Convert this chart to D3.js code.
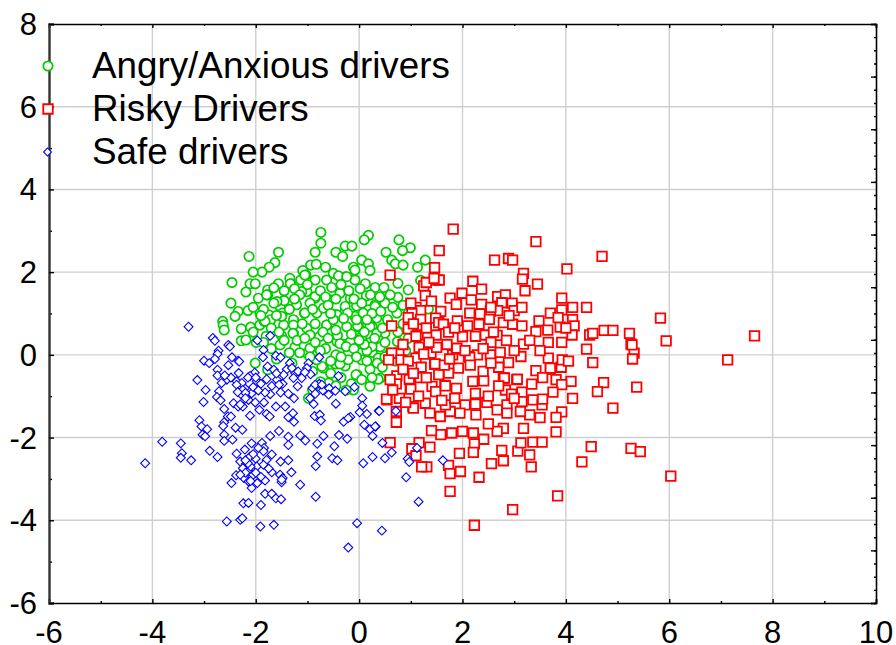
<!DOCTYPE html>
<html>
<head>
<meta charset="utf-8">
<script src="https://cdnjs.cloudflare.com/ajax/libs/d3/7.8.5/d3.min.js"></script>
<style>
  html, body { margin: 0; padding: 0; background: #fff; }
  svg { display: block; }
  text { font-family: "Liberation Sans", Arial, sans-serif; fill: #000; }
</style>
</head>
<body>
<svg id="chart" width="896" height="645"></svg>
<script>
var seriesNames = ["Angry/Anxious drivers", "Risky Drivers", "Safe drivers"];
var xTicks = [-6, -4, -2, 0, 2, 4, 6, 8, 10];
var yTicks = [-6, -4, -2, 0, 2, 4, 6, 8];

// [x, y]
var angry = [
[-.74,2.96],[-.74,2.70],[.18,2.89],[.10,2.78],[-.85,2.48],[-.27,2.63],[-.14,2.63],[-.45,2.48],[-.32,2.38],[.77,2.78],
[.99,2.59],[.84,2.52],[.52,2.48],[.63,2.29],[.70,2.20],[.85,2.17],[1.28,2.29],[1.13,2.12],[.05,2.29],[.18,2.20],
[-1.56,2.48],[-2.13,2.38],[-1.63,2.23],[-1.74,2.12],[-1.88,2.0],[-2.05,2.0],[-2.46,1.75],[-2.11,1.72],[-2.01,1.72],[-2.19,1.52],
[-1.77,1.57],[-1.95,1.37],[-1.77,1.45],[-2.48,1.25],[-2.34,1.05],[-2.15,1.07],[-2.40,.93],[-2.64,.81],[-2.63,.72],[-2.61,.60],
[-2.28,.63],[-2.10,.67],[-2.28,.34],[-2.19,.36],[-1.99,.30],[-1.92,.72],[-1.92,1.01],[-1.75,.97],[-1.84,.81],[-2.01,-.20],
[-1.77,-.36],[-.94,2.17],[-.83,2.19],[-1.09,2.04],[-1.03,1.93],[-.65,2.12],[-.50,1.97],[-.85,1.81],[-1.56,1.72],[-1.34,1.85],
[-1.32,1.72],[-1.13,1.81],[-.63,1.81],[-.11,2.12],[-.08,2.05],[.21,2.04],[-.26,1.89],[-.08,1.81],[.12,1.72],[.31,1.63],
[.48,1.63],[.75,1.73],[.95,1.57],[1.19,1.80],[.75,1.39],[.50,1.25],[.31,1.21],[.14,1.43],[-.17,1.37],[-.53,1.63],
[-.85,1.37],[-1.01,1.53],[-1.21,1.21],[-1.46,1.31],[-1.53,1.17],[-1.48,1.01],[-1.71,.85],[-1.27,.85],[-1.06,1.01],[-.82,1.01],
[-.69,1.13],[-.45,.97],[-.08,.93],[-.27,1.05],[.18,1.09],[.34,.97],[.73,1.01],[1.34,1.11],[.55,.85],[.25,.68],
[-.01,.68],[-.24,.68],[-.63,.72],[-1.01,.64],[-1.27,.52],[-1.46,.72],[-1.53,.24],[-1.24,.19],[-1.01,.04],[-.77,.44],
[-.43,.32],[-.32,.26],[.04,.40],[.21,.30],[.41,.19],[.74,.32],[.50,.52],[-.45,0],[.25,.06],[.02,.04],
[-.46,-.22],[-.27,-.27],[-.04,-.48],[.21,-.35],[.41,-.56],[.21,-.76],[-.11,-.85],[-.69,-.32],[-.59,-.68],[-.98,-1.05],
[.05,-.12],[-.82,0],[-1.33,1.72],[-1.05,1.93],[-.40,1.91],[-.24,1.89],[-.37,1.49],[-.85,1.41],[-1.11,1.53],[-1.79,1.45],
[-1.45,1.31],[-1.59,1.29],[.31,1.17],[-.05,1.18],[-.27,1.17],[-.56,1.33],[-1.05,1.01],[-1.82,.81],[-1.50,.93],[-1.27,.72],
[-.63,.72],[-.43,.97],[-.22,1.01],[.08,1.01],[.34,.89],[-.03,.70],[.21,.68],[-1.28,.52],[-1.50,.46],[-.95,.48],
[-.42,.47],[.34,.52],[-.37,.27],[-.17,.32],[.05,.44],[.25,.20],[-.95,.16],[-.21,.06],[.15,.10],[.37,-.08],
[-.72,-.28],[-.06,-.48],[.37,-.59],[-.37,-.22],[-.21,-.12],[-.82,-.12],
[-1.65,1.62],[-1.45,1.55],[-1.25,1.6],[-1.15,1.45],[-1.0,1.7],[-.95,1.25],[-.75,1.55],[-.65,1.4],[-.6,1.2],[-.45,1.35],
[-.35,1.7],[-.2,1.55],[-.1,1.35],[.02,1.6],[.05,1.25],[.22,1.45],[.25,1.0],[.4,1.4],[.42,1.05],[.6,1.45],
[.65,1.15],[.85,1.2],[.95,1.0],[1.05,.7],[.85,.75],[.62,.7],[.45,.65],[.15,.85],[-.05,.85],[-.15,.5],
[-.3,.88],[-.5,.85],[-.7,.55],[-.85,.75],[-1.1,.75],[-1.35,1.1],[-1.6,.95],[-1.7,.65],[-1.55,.55],[-1.8,.45],
[-2.05,.55],[-1.65,1.25],[-1.85,1.1],[-2.05,1.15],[-1.9,.95],[-1.2,.35],[-1.05,.4],[-.85,.3],[-.65,.15],[-.6,.4],
[-.25,.2],[-.1,.15],[.1,.25],[.3,.4],[.5,.3],[.6,.05],[.35,-.2],[.15,-.15],[-.05,-.05],[-.35,-.05],
[-.55,-.15],[-.75,.1],[-.95,-.05],[-1.15,.05],[-1.35,.05],[-1.45,.35],[-1.7,.15],[-1.85,.3],[-1.6,-.1],[-1.3,-.2],
[-.9,-.4],[-.55,-.45],[-.35,-.55],[-.15,-.7],[.05,-.6],[.25,-.55],[.45,-.3],[.5,-.05],[-.25,-.85],[-.45,-.75],
[-.75,-.65],[-.9,-.85],[.1,.55],[0,.35],[-.45,.6],[-.55,1.0],[-.9,1.1],[-1.25,1.35],[.75,.55],[.95,.4],
[1.1,.95],[.9,.1],[.7,-.15]
];

var risky = [
[1.82,3.04],[3.42,2.74],[1.55,2.52],[2.62,2.29],[2.89,2.33],[2.97,2.29],[4.70,2.38],[4.02,2.08],[1.46,2.11],[.60,1.93],
[1.49,1.81],[1.55,1.81],[3.18,1.97],[3.16,1.83],[3.45,1.71],[3.21,1.55],[2.20,1.78],[1.25,1.67],[1.28,1.43],[2.37,1.59],
[1.99,1.49],[1.76,1.37],[2.17,1.33],[1.88,1.22],[2.37,1.22],[2.68,1.41],[2.83,1.45],[2.76,1.26],[2.96,1.25],[2.68,1.07],
[3.0,1.07],[2.54,1.06],[3.92,1.37],[3.70,1.01],[3.92,1.09],[4.13,1.15],[4.40,1.15],[4.13,.85],[4.16,.70],[3.89,.67],
[1.10,1.15],[1.19,1.07],[1.02,1.0],[1.19,.86],[1.58,1.05],[2.14,1.01],[1.90,.82],[2.34,.99],[.63,.70],[.95,.63],
[1.14,.48],[1.48,.89],[1.54,.78],[1.63,.74],[1.49,.48],[1.73,.55],[2.0,.44],[2.10,.70],[2.32,.74],[2.52,.86],
[2.79,.78],[2.97,.74],[3.15,.70],[3.48,.82],[3.42,.56],[2.44,.48],[2.67,.47],[2.55,.30],[3.18,.26],[3.66,.30],
[3.92,.30],[4.12,.48],[4.46,.48],[4.52,.52],[4.74,.59],[4.91,.59],[5.23,.52],[5.26,.26],[5.32,.04],[5.29,-.10],
[4.40,.14],[4.52,-.19],[4.73,-.67],[4.61,-.89],[5.37,-.78],[4.91,-1.29],[4.13,-1.05],[4.10,-.64],[3.81,-.60],[3.92,-.72],
[3.91,-.30],[3.93,-.12],[3.70,-.35],[3.66,-.08],[3.42,-.38],[3.13,-.04],[2.89,-.19],[2.73,.06],[2.54,0],[2.29,0],
[2.12,-.04],[1.81,0],[1.39,.04],[1.10,-.08],[.77,.04],[.63,.04],[.81,-.12],[.57,-.12],[1.16,.18],[1.50,.18],
[1.88,.14],[1.46,-.23],[1.92,-.32],[1.73,-.44],[1.54,-.48],[1.18,-.55],[.97,-.60],[.73,-.51],[.72,-.70],[.99,-.81],
[1.41,-.76],[1.66,-.74],[1.88,-.81],[2.20,-.64],[2.41,-.63],[2.79,-.56],[3.05,-.60],[3.34,-.71],[2.83,-.85],[3.15,-.90],
[2.25,-.93],[1.48,-.89],[.54,-1.09],[.78,-1.05],[1.28,-1.17],[2.05,-1.21],[2.25,-1.19],[3.15,-1.13],[3.36,-1.09],[3.54,-1.21],
[2.86,-1.21],[3.92,-1.38],[3.81,-1.51],[3.81,-1.86],[3.50,-1.52],[3.30,-1.45],[3.12,-1.37],[3.18,-1.78],[2.86,-1.41],[2.67,-1.33],
[2.79,-1.78],[2.67,-1.85],[2.50,-1.67],[2.41,-2.04],[2.26,-1.45],[2.21,-1.89],[2.23,-2.15],[2.21,-2.36],[2.0,-1.85],[1.79,-1.89],
[1.58,-1.93],[1.40,-1.83],[1.37,-1.41],[1.57,-1.49],[1.76,-1.37],[1.95,-1.41],[1.04,-1.25],[.72,-1.37],[.72,-1.63],[.60,-2.12],
[1.16,-2.12],[1.02,-2.27],[1.37,-2.23],[1.10,-2.44],[1.31,-2.71],[1.21,-2.71],[1.73,-2.67],[1.76,-2.87],[1.96,-2.82],[1.94,-2.38],
[2.32,-2.96],[1.76,-3.30],[2.56,-2.63],[2.79,-2.56],[2.76,-2.31],[3.07,-2.33],[3.13,-2.13],[3.36,-2.11],[3.54,-2.11],[3.30,-2.42],
[3.33,-2.71],[3.84,-3.41],[2.97,-3.74],[2.23,-4.12],[4.49,-2.22],[4.31,-2.59],[5.26,-2.26],[5.44,-2.34],[6.03,-2.93],[5.83,.89],
[5.94,.34],[7.13,-.12],[7.65,.46],[5.28,.24],[1.25,.02],[1.47,-.22],[1.89,.16],[2.14,-.06],[2.70,-.30],[3.70,-.32],
[1.0,-.83],[1.67,-.75],[2.81,-.56],[3.06,-.59],[3.55,-1.07],[1.05,-1.29],[1.67,-1.21],[2.47,-1.15],[.53,-1.07],[1.2,-.3],
[.95,-.15],[.85,-.35],[1.05,-.45],[1.3,-.55],[1.65,-.25],[1.75,-.1],[2.05,.1],[2.15,-.25],[2.4,-.4],[2.55,-.2],
[2.7,-.75],[2.95,-.95],[3.0,-1.05],[2.5,-1.0],[1.85,-1.05],[1.6,-1.1],[1.15,-1.0],[.9,-1.15],[.6,-.6],[.65,-.85],
[.85,.25],[.95,.9],[1.05,.75],[1.3,.65],[1.35,.3],[1.7,.25],[1.85,.65],[2.25,.45],[2.4,.15],[2.6,.55],
[2.85,.35],[3.0,.1],[3.3,.35],[3.5,.1],[3.65,.6],[3.85,.9],[4.0,.65],[4.05,-.15],[3.75,-.9],[3.55,-.55],
[2.9,.95],[3.15,1.15],[2.55,1.15],[1.4,1.3],[1.1,.45],[1.0,1.25],[1.3,1.75],[1.45,1.85]
];

var safe = [
[-3.30,.68],[-2.83,.41],[-2.79,.34],[-2.53,.24],[-2.50,.20],[-1.97,.35],[-1.72,.46],[-1.85,.12],[-2.72,.10],[-2.74,.02],
[-3.0,-.14],[-2.90,-.20],[-2.79,-.10],[-2.46,-.06],[-2.34,-.14],[-2.32,-.16],[-2.53,-.25],[-1.86,-.06],[-1.61,-.02],[-1.52,-.06],
[-1.77,-.28],[-1.65,-.36],[-1.34,-.20],[-.98,-.20],[-.77,-.06],[-1.01,-.32],[-1.40,-.35],[-1.24,-.44],[-1.11,-.56],[-.94,-.47],
[-1.27,-.56],[-1.46,-.48],[-1.59,-.60],[-1.79,-.59],[-2.02,-.43],[-2.11,-.51],[-2.33,-.44],[-2.37,-.64],[-2.56,-.60],[-2.66,-.68],
[-2.74,-.36],[-2.74,-.50],[-3.13,-.61],[-2.97,-.85],[-2.71,-.88],[-2.75,-1.02],[-2.68,-1.10],[-3.01,-1.14],[-2.43,-1.17],[-2.34,-1.25],
[-2.25,-1.25],[-2.61,-1.31],[-2.21,-.81],[-2.27,-.68],[-2.37,-.72],[-1.98,-.64],[-2.08,-.93],[-2.27,-.97],[-2.14,-1.09],[-2.01,-1.15],
[-1.84,-1.15],[-1.93,-1.33],[-1.79,-1.43],[-1.73,-1.49],[-2.11,-1.47],[-1.61,-1.25],[-1.43,-1.25],[-1.52,-.91],[-1.37,-.94],[-1.26,-1.05],
[-1.72,-.95],[-1.82,-.91],[-1.69,-.75],[-1.48,-.70],[-1.19,-.76],[-.90,-.81],[-.85,-.94],[-.70,-.86],[-.58,-.81],[-.46,-.87],
[-.27,-.88],[-.09,-.78],[-.95,-1.05],[-.88,-1.19],[-.59,-.96],[-.77,-.70],[-.40,-.51],[.06,-1.05],[.06,-1.23],[.01,-1.39],
[.15,-1.43],[.38,-1.35],[-.45,-1.18],[-.17,-1.50],[-.30,-1.62],[-.21,-1.53],[-.86,-1.48],[-.76,-1.45],[-.74,-1.59],[-1.37,-1.51],
[-1.28,-1.41],[-1.26,-1.62],[-3.09,-1.58],[-3.05,-1.73],[-2.94,-1.80],[-3.03,-1.93],[-2.98,-1.97],[-2.61,-1.63],[-2.54,-1.49],[-2.48,-1.49],
[-2.63,-1.72],[-2.39,-1.76],[-2.26,-1.81],[-2.61,-1.93],[-2.61,-2.08],[-2.45,-2.05],[-3.81,-2.10],[-3.45,-2.14],[-3.43,-2.38],[-3.45,-2.49],
[-3.25,-2.55],[-4.14,-2.62],[-2.89,-2.32],[-2.74,-2.47],[-1.72,-1.96],[-1.55,-1.84],[-2.08,-2.14],[-1.88,-2.13],[-1.84,-2.25],[-1.37,-1.98],
[-1.37,-2.18],[-1.14,-1.95],[-1.04,-2.07],[-.81,-2.15],[-.69,-1.96],[-.39,-1.94],[-.23,-2.03],[-.48,-2.21],[.10,-1.69],[.21,-1.80],
[.32,-1.73],[.26,-1.96],[.45,-2.13],[.26,-2.47],[.63,-2.36],[.50,-2.50],[.08,-2.62],[-.81,-2.46],[-.84,-2.69],[-.52,-2.50],
[-.42,-2.55],[-1.37,-2.55],[-1.52,-2.58],[-1.31,-2.84],[-1.14,-3.14],[-.84,-3.43],[-1.69,-2.41],[-1.79,-2.54],[-1.85,-2.33],[-2.37,-2.39],
[-2.21,-2.29],[-2.11,-2.46],[-2.00,-2.51],[-2.30,-2.58],[-2.19,-2.63],[-2.25,-2.74],[-1.98,-2.70],[-1.85,-2.66],[-2.14,-2.82],[-2.38,-2.91],
[-2.23,-2.98],[-2.14,-3.06],[-1.97,-3.10],[-1.82,-3.04],[-2.08,-3.22],[-2.47,-3.10],[-1.69,-2.84],[-1.53,-2.90],[-1.48,-2.98],[-1.50,-3.08],
[-1.82,-3.36],[-1.69,-3.36],[-1.61,-3.47],[-1.51,-3.49],[-1.90,-3.63],[-2.24,-3.59],[-2.14,-3.58],[-2.56,-4.03],[-2.30,-3.99],[-2.26,-3.95],
[-1.91,-4.15],[-1.65,-4.11],[-.04,-4.07],[.44,-4.25],[-.21,-4.66],[.39,-1.36],[.71,-1.36],[.31,-1.73],[.94,-2.51],[.97,-2.59],
[1.12,-2.25],[1.62,-2.55],[.91,-2.96],[1.15,-3.55],[-2.25,-.85],[-2.20,-.92],[-2.35,-.9],[-2.05,-.78],[-1.95,-.86],[-2.15,-.55],
[-2.0,-.55],[-1.9,-.7],[-1.6,-.45],[-1.55,-.72],[-1.3,-.32],[-1.18,-.4],[-1.05,-.42],[-.85,-.72],[-.72,-.72],[-2.48,-.55],
[-2.6,-.5],[-2.2,-1.05],[-2.3,-1.2],[-2.1,-2.7],[-2.05,-2.9],[-2.2,-2.85],[-2.3,-2.9],[-2.15,-2.62],[-2.0,-2.85],[-1.9,-2.95],
[-2.1,-3.05],[-1.75,-2.75],[-2.05,-2.4],[-1.95,-2.25],[-2.2,-2.55],[-1.5,-3.02]
];

var left = 49, right = 876, top_ = 24, bottom = 603;

var x = d3.scaleLinear().domain([-6, 10]).range([left, right]);
var y = d3.scaleLinear().domain([-6, 8]).range([bottom, top_]);
// unlabelled scale on the right edge, ticks do not line up with the left one
var yRight = d3.scaleLinear().domain([0, 11]).range([bottom, top_]);

var svg = d3.select("#chart");

// grid
svg.append("g").selectAll("line").data(xTicks.slice(1, -1)).enter().append("line")
    .attr("x1", function(d) { return x(d); }).attr("x2", function(d) { return x(d); })
    .attr("y1", top_).attr("y2", bottom)
    .attr("stroke", "#cfcfcf").attr("stroke-width", 1.4);
svg.append("g").selectAll("line").data(yTicks.slice(1, -1)).enter().append("line")
    .attr("x1", left).attr("x2", right)
    .attr("y1", function(d) { return y(d); }).attr("y2", function(d) { return y(d); })
    .attr("stroke", "#cfcfcf").attr("stroke-width", 1.4);

// minor ticks first, then the major axes on top
function minor(axis, scale, vals, pos, size) {
  svg.append("g").attr("transform", pos)
      .call(axis(scale).tickValues(vals).tickSize(size).tickFormat(""))
      .call(function(g) { g.select(".domain").remove(); g.selectAll("line").attr("stroke", "#000").attr("stroke-width", 1.2); });
}
var xMinor = d3.range(-5, 10, 2);
var yMinor = d3.range(-5, 8, 2);
minor(d3.axisTop, x, xMinor, "translate(0," + bottom + ")", 2);
minor(d3.axisBottom, x, xMinor, "translate(0," + top_ + ")", 2);
minor(d3.axisRight, y, yMinor, "translate(" + left + ",0)", 3);
minor(d3.axisLeft, yRight, d3.range(0, 11.01, 0.25), "translate(" + right + ",0)", 2);

var xAxis = svg.append("g").attr("transform", "translate(0," + bottom + ")")
    .call(d3.axisTop(x).tickValues(xTicks).tickSize(4).tickFormat(""));
svg.append("g").attr("transform", "translate(0," + top_ + ")")
    .call(d3.axisBottom(x).tickValues(xTicks).tickSize(4).tickFormat(""));
var yAxis = svg.append("g").attr("transform", "translate(" + left + ",0)")
    .call(d3.axisRight(y).tickValues(yTicks).tickSize(5).tickFormat(""));
svg.append("g").attr("transform", "translate(" + right + ",0)")
    .call(d3.axisLeft(yRight).tickValues(d3.range(0, 11.01, 1)).tickSize(5).tickFormat(""));
svg.selectAll("g .domain").attr("stroke", "#000").attr("stroke-width", 1.6);
svg.selectAll("g .tick line").attr("stroke", "#000").attr("stroke-width", 1.4);
yAxis.select(".domain").attr("stroke", "#333").attr("stroke-width", 2.4);

// tick labels
svg.append("g").selectAll("text").data(xTicks).enter().append("text")
    .attr("x", function(d) { return x(d); }).attr("y", 643)
    .attr("text-anchor", "middle").attr("font-size", 31)
    .text(function(d) { return d; });
svg.append("g").selectAll("text").data(yTicks).enter().append("text")
    .attr("x", 37).attr("y", function(d) { return y(d) + 11; })
    .attr("text-anchor", "end").attr("font-size", 31)
    .text(function(d) { return d; });

var circleSym = d3.symbol().type(d3.symbolCircle).size(Math.PI * 4.7 * 4.7);
var squareSym = d3.symbol().type(d3.symbolSquare).size(9.5 * 9.5);
var diamondSym = d3.symbol().type(d3.symbolSquare).size(6.3 * 6.3);
var legendDiamond = d3.symbol().type(d3.symbolSquare).size(5.6 * 5.6);

function drawSeries(data, sym, color, sw, rot) {
  svg.append("g").selectAll("path").data(data).enter().append("path")
      .attr("d", sym())
      .attr("transform", function(d) {
        return "translate(" + x(d[0]) + "," + y(d[1]) + ")" + (rot ? " rotate(45)" : "");
      })
      .attr("fill", "#fff").attr("stroke", color).attr("stroke-width", sw);
}
drawSeries(angry, circleSym, "#00cc00", 1.7, false);
drawSeries(risky, squareSym, "#ff0000", 1.8, false);
drawSeries(safe, diamondSym, "#0000ff", 1.1, true);

// legend
var legendY = [66, 109, 152];
var legendSym = [circleSym, squareSym, legendDiamond];
var legendCol = ["#00cc00", "#ff0000", "#0000ff"];
var legendSw = [1.7, 1.8, 1.1];
seriesNames.forEach(function(name, i) {
  svg.append("path").attr("d", legendSym[i]())
      .attr("transform", "translate(" + (i == 2 ? 47.5 : 48) + "," + legendY[i] + ")" + (i == 2 ? " rotate(45)" : ""))
      .attr("fill", "#fff").attr("stroke", legendCol[i]).attr("stroke-width", legendSw[i]);
  svg.append("text").attr("x", 92).attr("y", [78, 121, 164][i])
      .attr("font-size", 36.8).text(name);
});
</script>
</body>
</html>
